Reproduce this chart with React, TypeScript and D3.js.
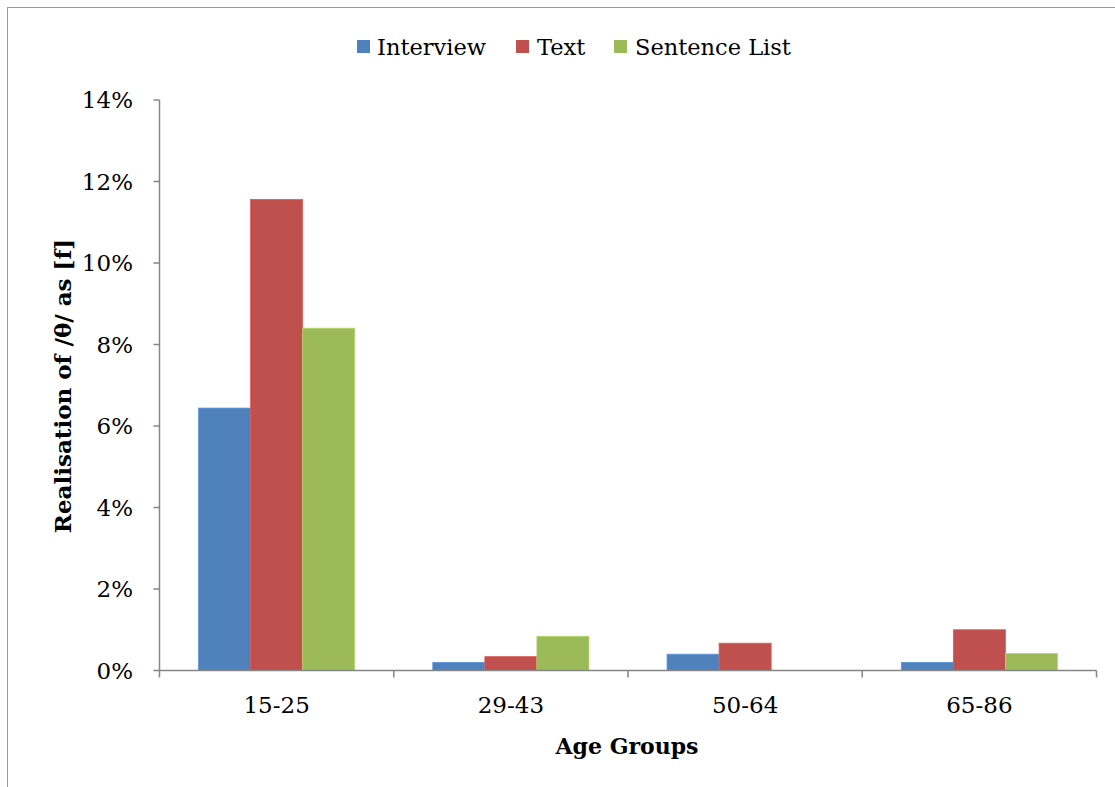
import React from "react";
import * as d3 from "d3";

const categories = ["15-25", "29-43", "50-64", "65-86"];
const seriesNames = ["Interview", "Text", "Sentence List"];
const interview = [6.44, 0.2, 0.4, 0.2];
const text = [11.56, 0.34, 0.67, 1.0];
const sentenceList = [8.4, 0.84, 0, 0.42];
const yTicks = [0, 2, 4, 6, 8, 10, 12, 14];
const colors = ["#4F81BD", "#C0504D", "#9BBB59"];

const W = 1115;
const H = 787;
const FONT = "'DejaVu Serif', 'Liberation Serif', serif";

export default function App() {
  const left = 159.5;
  const right = 1096.5;
  const top = 100;
  const bottom = 670.5;
  const series = [interview, text, sentenceList];

  const x = d3.scaleBand<string>().domain(categories).range([left, right]).paddingInner(0).paddingOuter(0);
  const y = d3.scaleLinear().domain([0, 14]).range([bottom, top]);
  const bw = x.bandwidth();
  const barW = bw / 4.5; // 75% gap width on each side
  const x1 = d3.scaleBand<number>().domain([0, 1, 2]).range([0, barW * 3]);

  const legendItems = [
    { name: seriesNames[0], sx: 357, tx: 377 },
    { name: seriesNames[1], sx: 516, tx: 537 },
    { name: seriesNames[2], sx: 614, tx: 635 },
  ];

  return (
    <svg width={W} height={H} style={{ position: "absolute", left: 0, top: 0, background: "#fff" }}>
      <rect x={7.5} y={7.5} width={W + 10} height={H + 10} fill="#fff" stroke="#9a9a9a" strokeWidth={1} />
      {legendItems.map((l, i) => (
        <g key={l.name}>
          <rect x={l.sx} y={40} width={13} height={13} fill={colors[i]} />
          <text x={l.tx} y={55} fontFamily={FONT} fontSize={22.5} fill="#000">{l.name}</text>
        </g>
      ))}
      {categories.map((c, ci) => (
        <g key={c}>
          {series.map((s, si) => {
            const bx = (x(c) as number) + barW * 0.75 + (x1(si) as number);
            return (
              <rect
                key={si}
                x={bx}
                y={y(s[ci])}
                width={x1.bandwidth()}
                height={bottom - y(s[ci])}
                fill={colors[si]}
                stroke={s[ci] > 0 ? d3.color(colors[si])!.brighter(0.4).toString() : "none"}
                strokeWidth={0.8}
              />
            );
          })}
        </g>
      ))}
      {/* y axis */}
      <line x1={left} x2={left} y1={top} y2={bottom} stroke="#868686" strokeWidth={1.5} />
      {yTicks.map((t) => (
        <g key={t}>
          <line x1={left - 6} x2={left} y1={y(t)} y2={y(t)} stroke="#868686" strokeWidth={1.5} />
          <text x={133} y={y(t) + 8} textAnchor="end" fontFamily={FONT} fontSize={23} fill="#000">{t}%</text>
        </g>
      ))}
      {/* x axis */}
      <line x1={left} x2={right} y1={bottom} y2={bottom} stroke="#868686" strokeWidth={1.5} />
      {[...categories.map((c) => x(c) as number), right].map((p, i) => (
        <line key={i} x1={p} x2={p} y1={bottom} y2={bottom + 7} stroke="#868686" strokeWidth={1.5} />
      ))}
      {categories.map((c) => (
        <text key={c} x={(x(c) as number) + bw / 2} y={713} textAnchor="middle" fontFamily={FONT} fontSize={23} fill="#000">{c}</text>
      ))}
      <text x={627} y={754} textAnchor="middle" fontFamily={FONT} fontSize={22} fontWeight="bold" fill="#000">Age Groups</text>
      <text
        transform={`translate(71, 386) rotate(-90)`}
        textAnchor="middle"
        fontFamily={FONT}
        fontSize={23}
        fontWeight="bold"
        fill="#000"
      >Realisation of /θ/ as [f]</text>
    </svg>
  );
}
